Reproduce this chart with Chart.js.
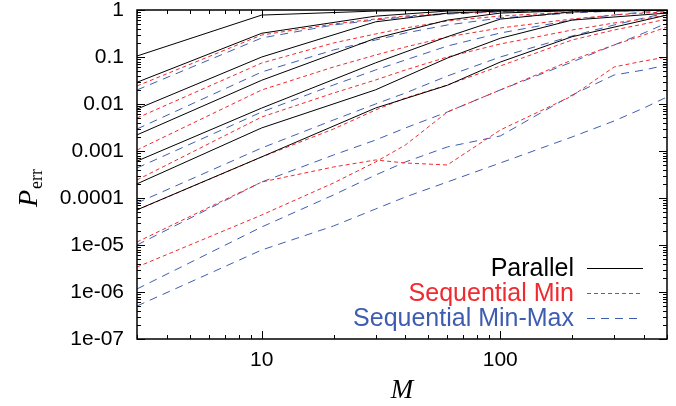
<!DOCTYPE html>
<html>
<head>
<meta charset="utf-8">
<script src="https://cdn.jsdelivr.net/npm/chart.js@4/dist/chart.umd.min.js"></script>
<style>
  html, body { margin: 0; padding: 0; background: #fff; }
</style>
</head>
<body>
<canvas id="chartPerr" width="676" height="406"></canvas>
<script>
// M values where the curves were computed
const mParallel = [3, 10, 30, 60, 100, 200, 500];
const mSequential = [3, 10, 20, 30, 40, 60, 100, 200, 300, 400, 500];

// Parallel (black, solid)
const parallel1 = [0.105, 0.78, 0.95, 0.99, 1, 1, 1];
const parallel2 = [0.029, 0.32, 0.74, 0.95, 1, 1, 1];
const parallel3 = [0.0078, 0.1, 0.56, 0.86, 0.95, 1, 1];
const parallel4 = [0.0022, 0.032, 0.25, 0.61, 0.86, 0.97, 1];
const parallel5 = [0.00061, 0.0082, 0.075, 0.27, 0.64, 0.91, 1];
const parallel6 = [0.0002, 0.0031, 0.02, 0.095, 0.25, 0.61, 0.86];
const parallel7 = [5.6e-5, 0.00075, 0.0082, 0.025, 0.078, 0.27, 0.78];

// Sequential Min (red, short dashes)
const seqMin1 = [0.0242, 0.294, 0.504, 0.644, 0.745, 0.842, 0.929, 0.976, 1, 1, 1];
const seqMin2 = [0.00504, 0.0745, 0.199, 0.309, 0.414, 0.583, 0.745, 0.907, 0.952, 0.976, 1];
const seqMin3 = [0.00105, 0.0199, 0.0613, 0.11, 0.163, 0.267, 0.414, 0.644, 0.783, 0.863, 0.907];
const seqMin4 = [0.000242, 0.00529, 0.0171, 0.0324, 0.0529, 0.1, 0.189, 0.375, 0.529, 0.644, 0.783];
const seqMin5 = [5.56e-5, 0.000745, 0.00294, 0.00745, 0.0134, 0.0254, 0.0644, 0.23, 0.375, 0.504, 0.644];
const seqMin6 = [1.16e-5, 0.000219, 0.000457, 0.000644, 0.000556, 0.000504, 0.0028, 0.0148, 0.0613, 0.0822, 0.1];
const seqMin7 = [3.4e-6, 4.35e-5, 0.000209, 0.000583, 0.00134, 0.00676, 0.0199, 0.0863, 0.18, 0.294, 0.435];

// Sequential Min-Max (blue, long dashes)
const seqMinMax1 = [0.0199, 0.254, 0.48, 0.613, 0.71, 0.822, 0.907, 0.976, 1, 1, 1];
const seqMinMax2 = [0.00294, 0.048, 0.141, 0.23, 0.324, 0.48, 0.676, 0.863, 0.952, 0.976, 1];
const seqMinMax3 = [0.000435, 0.00676, 0.0254, 0.0529, 0.0863, 0.171, 0.324, 0.613, 0.783, 0.907, 0.952];
const seqMinMax4 = [7.83e-5, 0.00116, 0.00457, 0.01, 0.0171, 0.0394, 0.1, 0.28, 0.48, 0.676, 0.863];
const seqMinMax5 = [1.0e-5, 0.000219, 0.000822, 0.00171, 0.00309, 0.00676, 0.0199, 0.0783, 0.18, 0.324, 0.529];
const seqMinMax6 = [1.16e-6, 2.42e-5, 0.000116, 0.000308, 0.000583, 0.00122, 0.00209, 0.0155, 0.0414, 0.0529, 0.0676];
const seqMinMax7 = [5.04e-7, 7.83e-6, 2.54e-5, 5.83e-5, 0.000105, 0.000219, 0.000556, 0.00199, 0.00435, 0.00822, 0.0141];

const yTickLabels = ['1', '0.1', '0.01', '0.001', '0.0001', '1e-05', '1e-06', '1e-07'];
const xTickLabels = ['10', '100'];

const colBlack = '#000000';
const colRed = '#f02a2f';
const colBlue = '#3f5db0';

function toPoints(ms, vals) {
    return ms.map((m, i) => ({ x: m, y: vals[i] }));
}

function decade(v) {
    const l = Math.log10(v);
    return Math.abs(l - Math.round(l)) < 1e-9 ? Math.round(l) : null;
}

function logTicks(min, max) {
    const out = [];
    for (let e = Math.floor(Math.log10(min)); e <= Math.ceil(Math.log10(max)); e++) {
        for (let k = 1; k <= 9; k++) {
            const v = k * Math.pow(10, e);
            if (v >= min * 0.999 && v <= max * 1.001) out.push({ value: v });
        }
    }
    return out;
}

const datasets = [];
[parallel1, parallel2, parallel3, parallel4, parallel5, parallel6, parallel7].forEach((d, i) => {
    datasets.push({ label: i === 0 ? 'Parallel' : '', data: toPoints(mParallel, d),
        borderColor: colBlack, borderWidth: 1, borderDash: [] });
});
[seqMin1, seqMin2, seqMin3, seqMin4, seqMin5, seqMin6, seqMin7].forEach((d, i) => {
    datasets.push({ label: i === 0 ? 'Sequential Min' : '', data: toPoints(mSequential, d),
        borderColor: colRed, borderWidth: 1, borderDash: [4, 3] });
});
[seqMinMax1, seqMinMax2, seqMinMax3, seqMinMax4, seqMinMax5, seqMinMax6, seqMinMax7].forEach((d, i) => {
    datasets.push({ label: i === 0 ? 'Sequential Min-Max' : '', data: toPoints(mSequential, d),
        borderColor: colBlue, borderWidth: 1, borderDash: [8, 6] });
});

// frame, inward ticks, axis titles and legend
const framePlugin = {
    id: 'frame',
    afterDraw(chart) {
        const ctx = chart.ctx;
        const a = chart.chartArea;
        const xs = chart.scales.x, ys = chart.scales.y;
        ctx.save();
        ctx.strokeStyle = '#000';
        ctx.lineWidth = 1;
        xs.ticks.forEach(t => {
            const px = Math.round(xs.getPixelForValue(t.value)) + 0.5;
            const len = decade(t.value) !== null ? 8 : 4;
            ctx.beginPath();
            ctx.moveTo(px, a.bottom); ctx.lineTo(px, a.bottom - len);
            ctx.moveTo(px, a.top); ctx.lineTo(px, a.top + len);
            ctx.stroke();
        });
        ys.ticks.forEach(t => {
            const py = Math.round(ys.getPixelForValue(t.value)) + 0.5;
            const len = decade(t.value) !== null ? 8 : 4;
            ctx.beginPath();
            ctx.moveTo(a.left, py); ctx.lineTo(a.left + len, py);
            ctx.moveTo(a.right, py); ctx.lineTo(a.right - len, py);
            ctx.stroke();
        });
        ctx.lineWidth = 1.5;
        ctx.strokeRect(a.left, a.top, a.right - a.left, a.bottom - a.top);

        // y title: P_err
        ctx.fillStyle = '#000';
        ctx.save();
        ctx.translate(37, 207);
        ctx.rotate(-Math.PI / 2);
        ctx.textAlign = 'left';
        ctx.textBaseline = 'alphabetic';
        ctx.font = 'italic 28px "Liberation Serif"';
        ctx.fillText('P', 0, 0);
        const pw = ctx.measureText('P').width;
        ctx.font = '18px "Liberation Serif"';
        ctx.fillText('err', pw + 1, 5);
        ctx.restore();

        // x title: M
        ctx.font = 'italic 27px "Liberation Serif"';
        ctx.textAlign = 'center';
        ctx.fillText('M', (a.left + a.right) / 2, 398);

        // legend, text right-aligned with sample line on the right
        const entries = [
            { text: 'Parallel', ds: chart.data.datasets[0], y: 269 },
            { text: 'Sequential Min', ds: chart.data.datasets[7], y: 294 },
            { text: 'Sequential Min-Max', ds: chart.data.datasets[14], y: 319 }
        ];
        ctx.font = '25px "Liberation Sans"';
        ctx.textAlign = 'right';
        ctx.textBaseline = 'middle';
        entries.forEach(e => {
            ctx.fillStyle = e.ds.borderColor;
            ctx.fillText(e.text, 574, e.y);
            ctx.strokeStyle = e.ds.borderColor;
            ctx.lineWidth = 1;
            ctx.setLineDash(e.ds.borderDash);
            ctx.beginPath();
            ctx.moveTo(587, e.y - 0.5); ctx.lineTo(643, e.y - 0.5);
            ctx.stroke();
            ctx.setLineDash([]);
        });
        ctx.restore();
    }
};

new Chart(document.getElementById('chartPerr'), {
    type: 'line',
    data: { datasets },
    options: {
        responsive: false,
        animation: false,
        devicePixelRatio: 1,
        layout: { padding: { left: 0, right: 9, top: 10, bottom: 0 } },
        elements: { point: { radius: 0 }, line: { tension: 0, fill: false } },
        plugins: { legend: { display: false }, tooltip: { enabled: false } },
        scales: {
            x: {
                type: 'logarithmic',
                min: 3,
                max: 500,
                grid: { display: false, drawTicks: false },
                border: { display: false },
                afterBuildTicks: s => { s.ticks = logTicks(3, 500); },
                afterFit: s => { s.height = 67; s.paddingLeft = 0; s.paddingRight = 0; },
                ticks: {
                    autoSkip: false,
                    maxRotation: 0,
                    padding: 9,
                    color: '#000',
                    font: { family: '"Liberation Sans"', size: 21 },
                    callback: v => {
                        const d = decade(v);
                        return d !== null && xTickLabels.includes(String(Math.pow(10, d))) ? String(Math.pow(10, d)) : '';
                    }
                }
            },
            y: {
                type: 'logarithmic',
                min: 1e-7,
                max: 1,
                grid: { display: false, drawTicks: false },
                border: { display: false },
                afterBuildTicks: s => { s.ticks = logTicks(1e-7, 1); },
                afterFit: s => { s.width = 137; s.paddingTop = 0; s.paddingBottom = 0; },
                ticks: {
                    autoSkip: false,
                    padding: 13,
                    color: '#000',
                    font: { family: '"Liberation Sans"', size: 21 },
                    callback: v => {
                        const d = decade(v);
                        return d !== null ? yTickLabels[-d] : '';
                    }
                }
            }
        }
    },
    plugins: [framePlugin]
});
</script>
</body>
</html>
